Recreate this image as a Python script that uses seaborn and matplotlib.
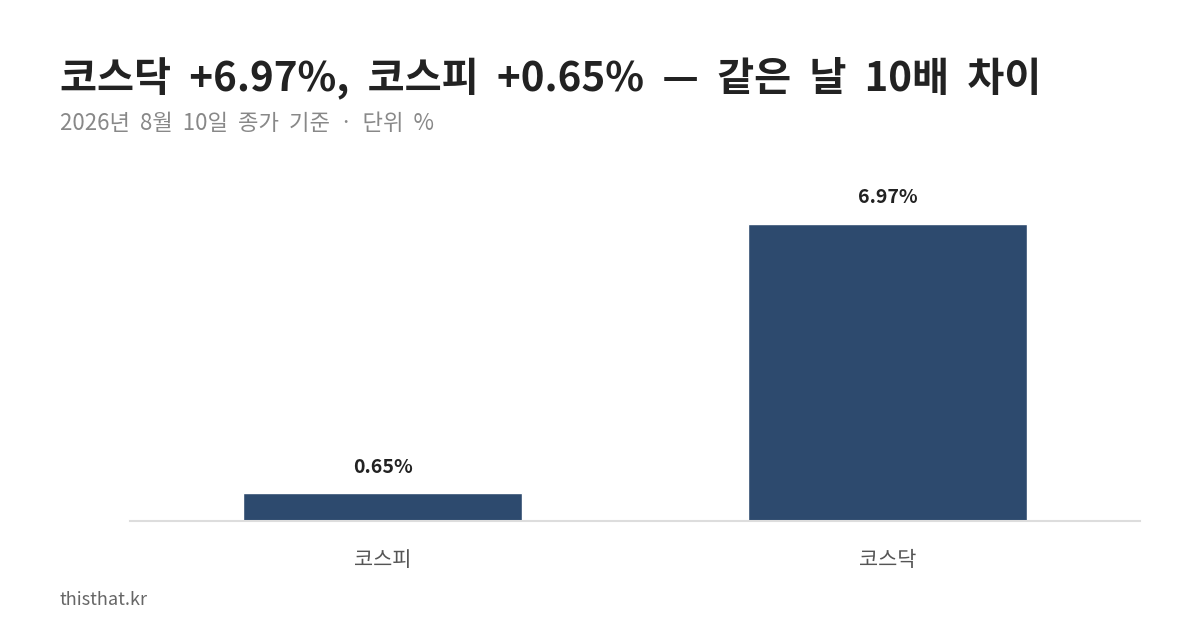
import matplotlib
matplotlib.use("Agg")
import matplotlib.pyplot as plt
import seaborn as sns
import pandas as pd

categories = ["코스피", "코스닥"]
values = [0.65, 6.97]
labels = ["0.65%", "6.97%"]

sns.set_theme(style="white")
plt.rcParams['font.family'] = ['Noto Sans CJK KR', 'DejaVu Sans']

fig = plt.figure(figsize=(12, 6.3), dpi=100)
ax = fig.add_axes([130/1200, 1-521/630, 1010/1200, 361/630])
df = pd.DataFrame({"cat": categories, "val": values})
sns.barplot(data=df, x="cat", y="val", color="#2d4a6e", saturation=1, width=0.552, ax=ax)
ax.set_xlim(-0.5, 1.5)
ax.set_ylim(0, 8.47)
for i, (v, l) in enumerate(zip(values, labels)):
    ax.annotate(l, (i, v), xytext=(0, 12), textcoords="offset points", ha="center", va="bottom",
                fontsize=14, fontweight="bold", color="#222222")
for s in ["top", "right", "left"]:
    ax.spines[s].set_visible(False)
ax.spines["bottom"].set_color("#dddddd")
ax.spines["bottom"].set_linewidth(1.5)
ax.set_yticks([])
ax.set_xlabel(""); ax.set_ylabel("")
ax.tick_params(axis="x", length=0, pad=20, labelsize=15, labelcolor="#555555")

fig.text(60/1200, 1-78/630, "코스닥  +6.97%,  코스피  +0.65%  —  같은  날  10배  차이", fontsize=29,
         fontweight="bold", color="#222222", va="center", ha="left")
fig.text(60/1200, 1-124/630, "2026년  8월  10일  종가  기준  ·  단위  %", fontsize=16,
         color="#888888", va="center", ha="left")
fig.text(60/1200, 1-600/630, "thisthat.kr", fontsize=13, color="#666666", va="center", ha="left")
fig.savefig("out.png", dpi=100, facecolor="white")
